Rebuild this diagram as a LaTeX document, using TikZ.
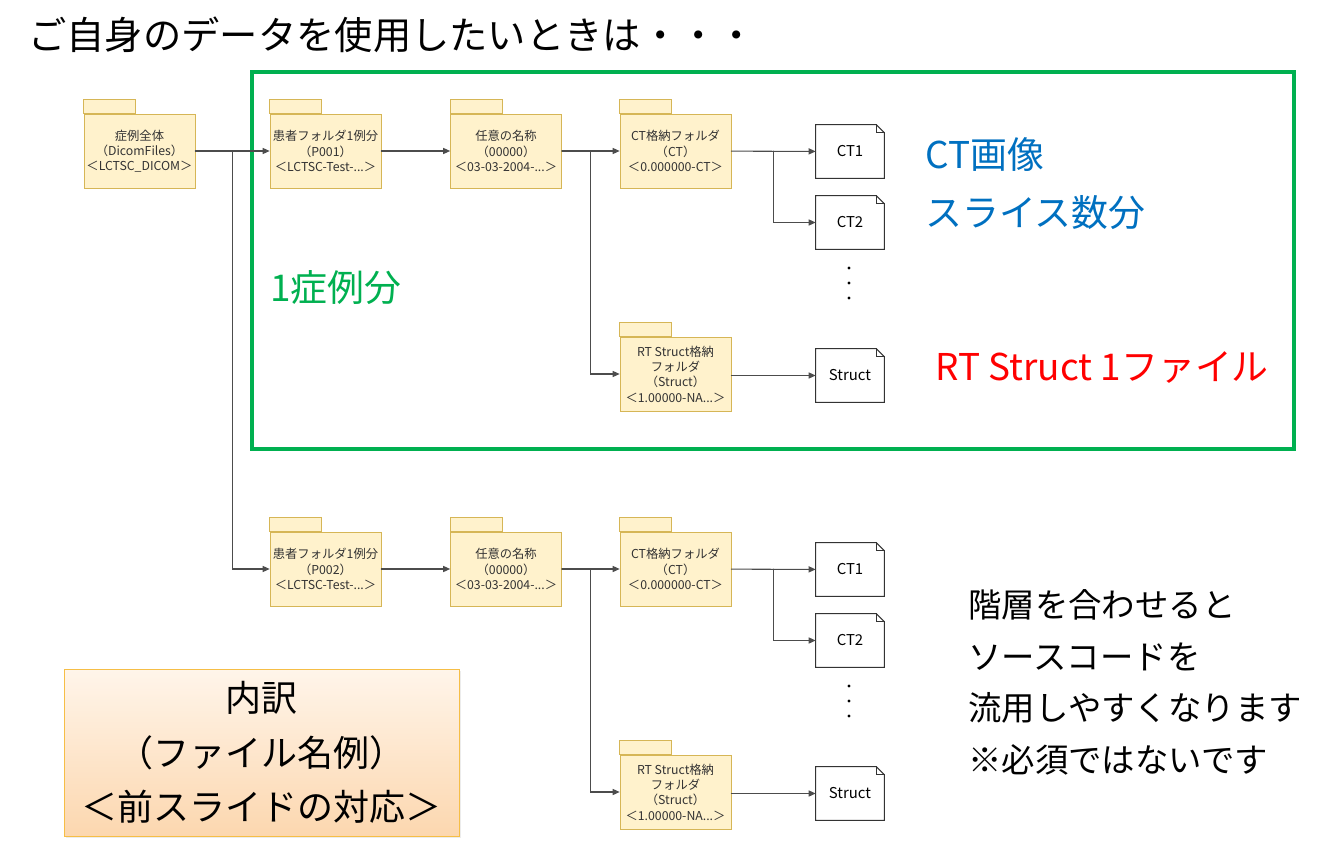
\documentclass[tikz,border=0pt]{standalone}
\usepackage{fontspec}
\setmainfont{Noto Sans CJK JP}
\usetikzlibrary{arrows.meta,calc,shadows}
\definecolor{foldfill}{RGB}{255,242,204}
\definecolor{folddraw}{RGB}{214,182,86}
\definecolor{casegreen}{RGB}{0,176,80}
\definecolor{ctblue}{RGB}{0,112,192}
\definecolor{rtred}{RGB}{255,0,0}
\definecolor{boxtop}{RGB}{255,245,234}
\definecolor{boxbot}{RGB}{252,215,175}
\definecolor{boxdraw}{RGB}{246,190,70}
\tikzset{
  folder/.style={draw=folddraw, fill=foldfill, minimum width=2.22cm, minimum height=1.48cm,
    inner sep=1pt, align=center, font=\fontsize{7}{8.7}\selectfont, text=black!80},
  foldtab/.style={draw=folddraw, fill=foldfill},
  datafile/.style={minimum width=1.36cm, minimum height=1.06cm, font=\fontsize{8.5}{10}\selectfont},
  fileline/.style={draw=black!80, line width=0.6pt},
  conn/.style={draw=black!70, line width=0.6pt, -{Triangle[length=4pt,width=3.5pt]}},
  bigtext/.style={anchor=west, inner sep=0pt, font=\fontsize{21}{25}\selectfont},
}

\begin{document}
\begin{tikzpicture}[x=0.02cm, y=-0.02cm, line cap=round]
\useasboundingbox (0,0) rectangle (1323,845);
% 見出し
\node[bigtext, font=\fontsize{21.8}{25}\selectfont] (title) at (28,35) {ご自身のデータを使用したいときは・・・};
% 1症例分の枠
\draw[casegreen, line width=1.8pt] (252,72) rectangle (1294,449);
\node[bigtext, text=casegreen] (onecase) at (270,288) {1症例分};
\node[bigtext, text=ctblue] (ctimg) at (925,155) {CT画像};
\node[bigtext, text=ctblue] (nslice) at (925,213) {スライス数分};
\node[bigtext, text=rtred] (rtone) at (935,368) {RT Struct 1ファイル};
% フォルダ（1段目）
\node[folder] (top) at (139.5,151) {症例全体\\（DicomFiles）\\＜LCTSC\_DICOM＞};
\node[folder] (pA) at (325.5,151) {患者フォルダ1例分\\（P001）\\＜LCTSC-Test-...＞};
\node[folder] (nA) at (506,151) {任意の名称\\（00000）\\＜03-03-2004-...＞};
\node[folder] (ctA) at (675.5,151) {CT格納フォルダ\\（CT）\\＜0.000000-CT＞};
\node[folder] (rtA) at (675.5,374) {RT Struct格納\\フォルダ\\（Struct）\\＜1.00000-NA...＞};
\node[datafile] (ctA1) at (850,151.5) {CT1};
\node[datafile] (ctA2) at (850,222.5) {CT2};
\node[datafile] (stA) at (850,375.5) {Struct};
% フォルダ（2段目）
\node[folder] (pB) at (325.5,569) {患者フォルダ1例分\\（P002）\\＜LCTSC-Test-...＞};
\node[folder] (nB) at (506,569) {任意の名称\\（00000）\\＜03-03-2004-...＞};
\node[folder] (ctB) at (675.5,569) {CT格納フォルダ\\（CT）\\＜0.000000-CT＞};
\node[folder] (rtB) at (675.5,792) {RT Struct格納\\フォルダ\\（Struct）\\＜1.00000-NA...＞};
\node[datafile] (ctB1) at (850,569.5) {CT1};
\node[datafile] (ctB2) at (850,640.5) {CT2};
\node[datafile] (stB) at (850,793.5) {Struct};
% フォルダのタブとファイルの外形
\foreach \f in {top,pA,nA,ctA,rtA,pB,nB,ctB,rtB}
  \draw[foldtab] (\f.north west) rectangle ++(52,-14);
\foreach \d in {ctA1,ctA2,stA,ctB1,ctB2,stB} {
  \draw[fileline] (\d.south west) |- ([xshift=-0.16cm]\d.north east)
    -- ([yshift=-0.16cm]\d.north east) -- (\d.south east) -- cycle;
  \draw[fileline] ([xshift=-0.16cm]\d.north east) |- ([yshift=-0.16cm]\d.north east);
}
\foreach \yy in {268,283,298,686,701,716}
  \fill (849,\yy) circle (0.9pt);
% 接続
\coordinate (jTop) at ($(top.east)!0.5!(pA.west)$);
\draw[conn] (top) -- (pA);
\draw[conn] (jTop) |- (pB.west);
\draw[conn] (pA) -- (nA);
\draw[conn] (nA) -- (ctA);
\coordinate (jA) at ($(nA.east)!0.5!(ctA.west)$);
\draw[conn] (jA) |- (rtA.west);
\draw[conn] (ctA) -- (ctA1);
\coordinate (jCtA) at ($(ctA.east)!0.5!(ctA1.west)$);
\draw[conn] (jCtA) |- (ctA2.west);
\draw[conn] (rtA.east |- stA) -- (stA);
\draw[conn] (pB) -- (nB);
\draw[conn] (nB) -- (ctB);
\coordinate (jB) at ($(nB.east)!0.5!(ctB.west)$);
\draw[conn] (jB) |- (rtB.west);
\draw[conn] (ctB) -- (ctB1);
\coordinate (jCtB) at ($(ctB.east)!0.5!(ctB1.west)$);
\draw[conn] (jCtB) |- (ctB2.west);
\draw[conn] (rtB.east |- stB) -- (stB);
% 内訳
\node[draw=boxdraw, top color=boxtop, bottom color=boxbot, minimum width=7.9cm, minimum height=3.34cm,
  align=center, font=\fontsize{20.5}{31}\selectfont,
  drop shadow={opacity=0.15, shadow xshift=1pt, shadow yshift=-1pt}] (legend) at (261.5,752.5)
  {内訳\\（ファイル名例）\\＜前スライドの対応＞};
% 補足
\node[anchor=north west, inner sep=0pt, align=left, font=\fontsize{19}{29.5}\selectfont] (note) at (968,589)
  {階層を合わせると\\ソースコードを\\流用しやすくなります\\※必須ではないです};
\end{tikzpicture}
\end{document}
